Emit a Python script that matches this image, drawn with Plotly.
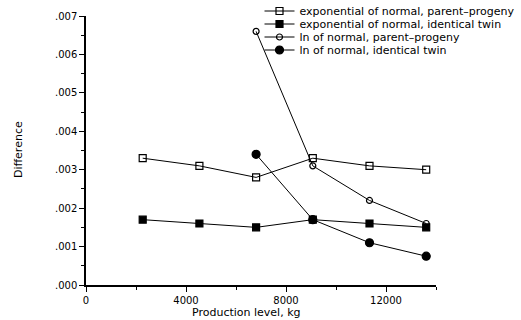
import plotly.graph_objects as go

production_kg = [2268, 4536, 6804, 9072, 11340, 13608]

exp_parent_progeny = [0.0033, 0.0031, 0.0028, 0.0033, 0.0031, 0.0030]
exp_identical_twin = [0.0017, 0.0016, 0.0015, 0.0017, 0.0016, 0.0015]
ln_parent_progeny_x = [6804, 9072, 11340, 13608]
ln_parent_progeny = [0.0066, 0.0031, 0.0022, 0.0016]
ln_identical_twin_x = [6804, 9072, 11340, 13608]
ln_identical_twin = [0.0034, 0.0017, 0.0011, 0.00075]

y_tickvals = [0, 0.001, 0.002, 0.003, 0.004, 0.005, 0.006, 0.007]
y_ticktext = [".000", ".001", ".002", ".003", ".004", ".005", ".006", ".007"]
x_tickvals = [0, 4000, 8000, 12000]
x_ticktext = ["0", "4000", "8000", "12000"]

series = [
    ("exponential of normal, parent\u2013progeny", production_kg, exp_parent_progeny, "square-open", 7),
    ("exponential of normal, identical twin", production_kg, exp_identical_twin, "square", 7),
    ("ln of normal, parent\u2013progeny", ln_parent_progeny_x, ln_parent_progeny, "circle-open", 6),
    ("ln of normal, identical twin", ln_identical_twin_x, ln_identical_twin, "circle", 8),
]

W, H = 521, 320
L, R, T, B = 86, 85, 16, 35
PW, PH = W - L - R, H - T - B
legend_ids = ["legend", "legend2", "legend3", "legend4"]
legend_row_px = [11, 24, 37, 50]

fig = go.Figure()
for (name, xs, ys, sym, sz), lid in zip(series, legend_ids):
    fig.add_trace(go.Scatter(
        x=xs, y=ys, name=name, mode="lines+markers", legend=lid,
        line=dict(color="black", width=1),
        marker=dict(symbol=sym, size=sz, color="black", line=dict(color="black", width=1.2)),
    ))

legend_layout = {}
for lid, row in zip(legend_ids, legend_row_px):
    legend_layout[lid] = dict(
        x=259.5 / W, y=1 - row / H, xref="container", yref="container",
        xanchor="left", yanchor="middle",
        bgcolor="rgba(0,0,0,0)", borderwidth=0,
        font=dict(family="DejaVu Sans", size=11, color="black"),
        itemwidth=30,
    )

fig.update_layout(
    width=W, height=H,
    margin=dict(l=L, r=R, t=T, b=B, autoexpand=False),
    paper_bgcolor="white", plot_bgcolor="white",
    font=dict(family="DejaVu Sans", size=10, color="black"),
    showlegend=True,
    xaxis=dict(range=[0, 14000], showgrid=False, zeroline=False, automargin=False,
               showline=True, linecolor="black", linewidth=1.5,
               ticks="outside", ticklen=5, tickcolor="black", tickwidth=1,
               tickvals=x_tickvals, ticktext=x_ticktext,
               minor=dict(dtick=2000, ticks="outside", ticklen=3, tickcolor="black", showgrid=False),
               tickfont=dict(size=10)),
    yaxis=dict(range=[0, 0.007], showgrid=False, zeroline=False, automargin=False,
               showline=True, linecolor="black", linewidth=1.5,
               ticks="outside", ticklen=5, tickcolor="black", tickwidth=1,
               tickvals=y_tickvals, ticktext=y_ticktext,
               minor=dict(dtick=0.0005, ticks="outside", ticklen=3, tickcolor="black", showgrid=False),
               tickfont=dict(size=10)),
    annotations=[
        dict(text="Production level, kg", xref="paper", yref="paper",
             x=(246 - L) / PW, y=-(312 - (H - B)) / PH, showarrow=False,
             xanchor="center", yanchor="middle", font=dict(size=11)),
        dict(text="Difference", xref="paper", yref="paper", textangle=-90,
             x=-(L - 18) / PW, y=(H - B - 150) / PH, showarrow=False,
             xanchor="center", yanchor="middle", font=dict(size=11)),
    ],
    **legend_layout,
)

fig.write_html("out.html", config={"displayModeBar": False},
               post_script="document.body.style.margin='0';")
